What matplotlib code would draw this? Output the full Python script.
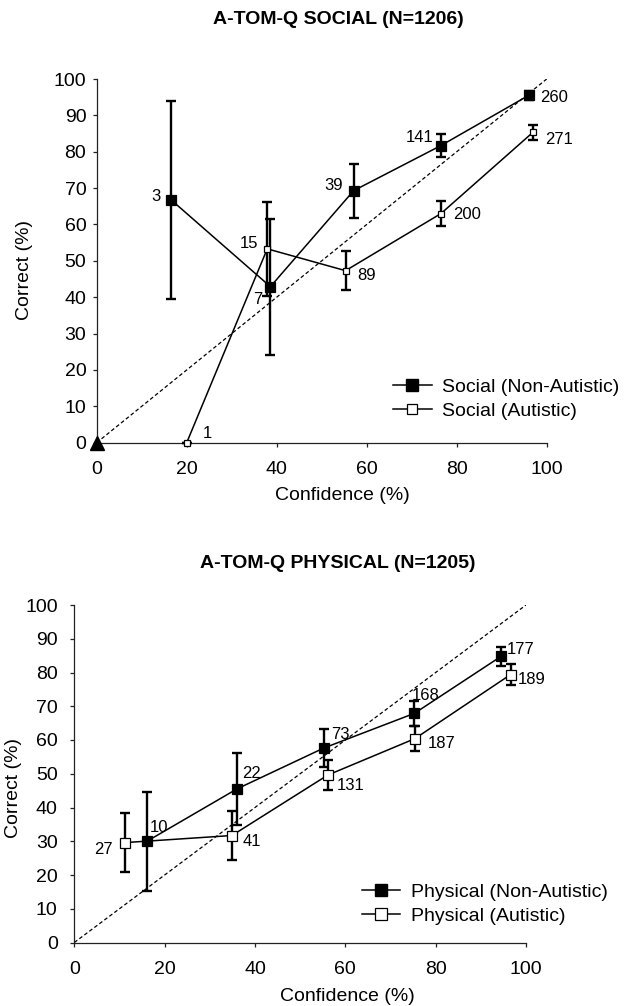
import matplotlib
matplotlib.use("Agg")
import matplotlib.pyplot as plt
from matplotlib.lines import Line2D

plt.rcParams['font.family'] = ['Liberation Sans', 'DejaVu Sans']

# ---------------- data ----------------
social_non_x = [16.6, 38.6, 57.1, 76.5, 96.0]
social_non_y = [66.7, 42.9, 69.3, 81.7, 95.5]
social_non_err = [27.2, 18.7, 7.4, 3.2, 1.3]
social_non_n = [3, 7, 39, 141, 260]

social_aut_x = [20.0, 37.9, 55.3, 76.5, 96.9]
social_aut_y = [0.0, 53.3, 47.3, 63.0, 85.3]
social_aut_err = [0.0, 12.9, 5.3, 3.4, 2.1]
social_aut_n = [1, 15, 89, 200, 271]

physical_non_x = [16.1, 36.0, 55.2, 75.3, 94.5]
physical_non_y = [30.0, 45.5, 57.6, 67.9, 84.8]
physical_non_err = [14.6, 10.7, 5.7, 3.7, 2.8]
physical_non_n = [10, 22, 73, 168, 177]

physical_aut_x = [11.2, 34.9, 56.1, 75.4, 96.6]
physical_aut_y = [29.6, 31.7, 49.6, 60.4, 79.4]
physical_aut_err = [8.8, 7.3, 4.4, 3.7, 3.0]
physical_aut_n = [27, 41, 131, 187, 189]

diag_x = [0, 100]
diag_y = [0, 100]
origin_x = [0]
origin_y = [0]

ticks = [0, 10, 20, 30, 40, 50, 60, 70, 80, 90, 100]
xticks = [0, 20, 40, 60, 80, 100]

# label offsets (pixels) -- layout only
off_social_non = [(-15, 4), (-13, -13), (-20, 5), (-21, 8), (25, -2)]
off_social_aut = [(21, 9), (-18, 5), (21, -5), (26, -1), (26, -7)]
off_phys_non = [(12, 14), (15, 15), (17, 14), (11, 18), (19, 7)]
off_phys_aut = [(-21, -7), (20, -6), (23, -10), (27, -5), (21, -5)]

W, H = 632, 1006
fig = plt.figure(figsize=(W / 100, H / 100), dpi=100)


def px_axes(left, right, top, bottom):
    return fig.add_axes([left / W, 1 - bottom / H, (right - left) / W, (bottom - top) / H])


def style_axes(ax, xpad, ypad):
    ax.set_xlim(0, 100)
    ax.set_ylim(0, 100)
    ax.set_xticks(xticks)
    ax.set_yticks(ticks)
    for s in ['top', 'right']:
        ax.spines[s].set_visible(False)
    for s in ['left', 'bottom']:
        ax.spines[s].set_linewidth(0.9)
        ax.spines[s].set_color('#222222')
    ax.tick_params(axis='x', direction='out', length=3, width=0.9, color='#222222',
                   labelsize=14, pad=xpad)
    ax.tick_params(axis='y', direction='out', length=3, width=0.9, color='#222222',
                   labelsize=14, pad=ypad)


def series(ax, x, y, err, filled, ms):
    ax.plot(x, y, color='black', lw=1.1, zorder=3, clip_on=False)
    ax.errorbar(x, y, yerr=err, fmt='none', ecolor='black', elinewidth=1.7,
                capsize=3.3, capthick=1.7, zorder=4, clip_on=False)
    ax.plot(x, y, linestyle='none', marker='s', ms=ms,
            mfc='black' if filled else 'white', mec='black', mew=0.9,
            zorder=5, clip_on=False)


def labels(ax, x, y, ns, offs):
    for xi, yi, n, (dx, dy) in zip(x, y, ns, offs):
        ax.annotate(str(n), xy=(xi, yi), xytext=(dx, dy), textcoords='offset pixels',
                    ha='center', va='center', fontsize=12, zorder=6)


# ---------------- top: social ----------------
ax1 = px_axes(96.7, 546.7, 79.0, 442.7)
style_axes(ax1, 10, 4.5)
ax1.plot(diag_x, diag_y, color='black', lw=0.9, linestyle=(0, (3, 2)), zorder=2)
ax1.plot(origin_x, origin_y, linestyle='none', marker='^', ms=10, color='black',
         zorder=6, clip_on=False)
series(ax1, social_non_x, social_non_y, social_non_err, True, 7)
series(ax1, social_aut_x, social_aut_y, social_aut_err, False, 5)
labels(ax1, social_non_x, social_non_y, social_non_n, off_social_non)
labels(ax1, social_aut_x, social_aut_y, social_aut_n, off_social_aut)

ax1.set_xlabel('Confidence (%)', fontsize=14, va='center')
ax1.set_ylabel('Correct (%)', fontsize=14, va='center')
ax1.xaxis.set_label_coords((342.5 - 96.7) / 450, (442.7 - 496) / 363.7)
ax1.yaxis.set_label_coords((25 - 96.7) / 450, (442.7 - 270) / 363.7)

h_fill = Line2D([], [], color='black', lw=1.1, marker='s', ms=8.5, mfc='black', mec='black')
h_open = Line2D([], [], color='black', lw=1.1, marker='s', ms=7.5, mfc='white', mec='black', mew=0.9)
ax1.legend([h_fill, h_open], ['Social (Non-Autistic)', 'Social (Autistic)'],
           loc='center left', bbox_to_anchor=(392.7 / W, 1 - 399 / H),
           bbox_transform=fig.transFigure, frameon=False, fontsize=14,
           handlelength=2.0, handletextpad=0.55, labelspacing=0.3,
           borderpad=0, borderaxespad=0)

fig.text(338 / W, 1 - 20 / H, 'A-TOM-Q SOCIAL (N=1206)', ha='center', va='center',
         fontsize=14, fontweight='bold')

# ---------------- bottom: physical ----------------
ax2 = px_axes(74.3, 526.0, 605.0, 942.5)
style_axes(ax2, 10, 9)
ax2.plot(diag_x, diag_y, color='black', lw=0.9, linestyle=(0, (3, 2)), zorder=2)
series(ax2, physical_non_x, physical_non_y, physical_non_err, True, 7)
series(ax2, physical_aut_x, physical_aut_y, physical_aut_err, False, 6.5)
labels(ax2, physical_non_x, physical_non_y, physical_non_n, off_phys_non)
labels(ax2, physical_aut_x, physical_aut_y, physical_aut_n, off_phys_aut)

ax2.set_xlabel('Confidence (%)', fontsize=14, va='center')
ax2.set_ylabel('Correct (%)', fontsize=14, va='center')
ax2.xaxis.set_label_coords((347.5 - 74.3) / 451.7, (942.5 - 996.7) / 337.5)
ax2.yaxis.set_label_coords((14 - 74.3) / 451.7, (942.5 - 788) / 337.5)

h_fill2 = Line2D([], [], color='black', lw=1.1, marker='s', ms=8.5, mfc='black', mec='black')
h_open2 = Line2D([], [], color='black', lw=1.1, marker='s', ms=8.5, mfc='white', mec='black', mew=0.9)
ax2.legend([h_fill2, h_open2], ['Physical (Non-Autistic)', 'Physical (Autistic)'],
           loc='center left', bbox_to_anchor=(361.5 / W, 1 - 904 / H),
           bbox_transform=fig.transFigure, frameon=False, fontsize=14,
           handlelength=2.0, handletextpad=0.55, labelspacing=0.3,
           borderpad=0, borderaxespad=0)

fig.text(338 / W, 1 - 563 / H, 'A-TOM-Q PHYSICAL (N=1205)', ha='center', va='center',
         fontsize=14, fontweight='bold')

fig.savefig('out.png', dpi=100)
